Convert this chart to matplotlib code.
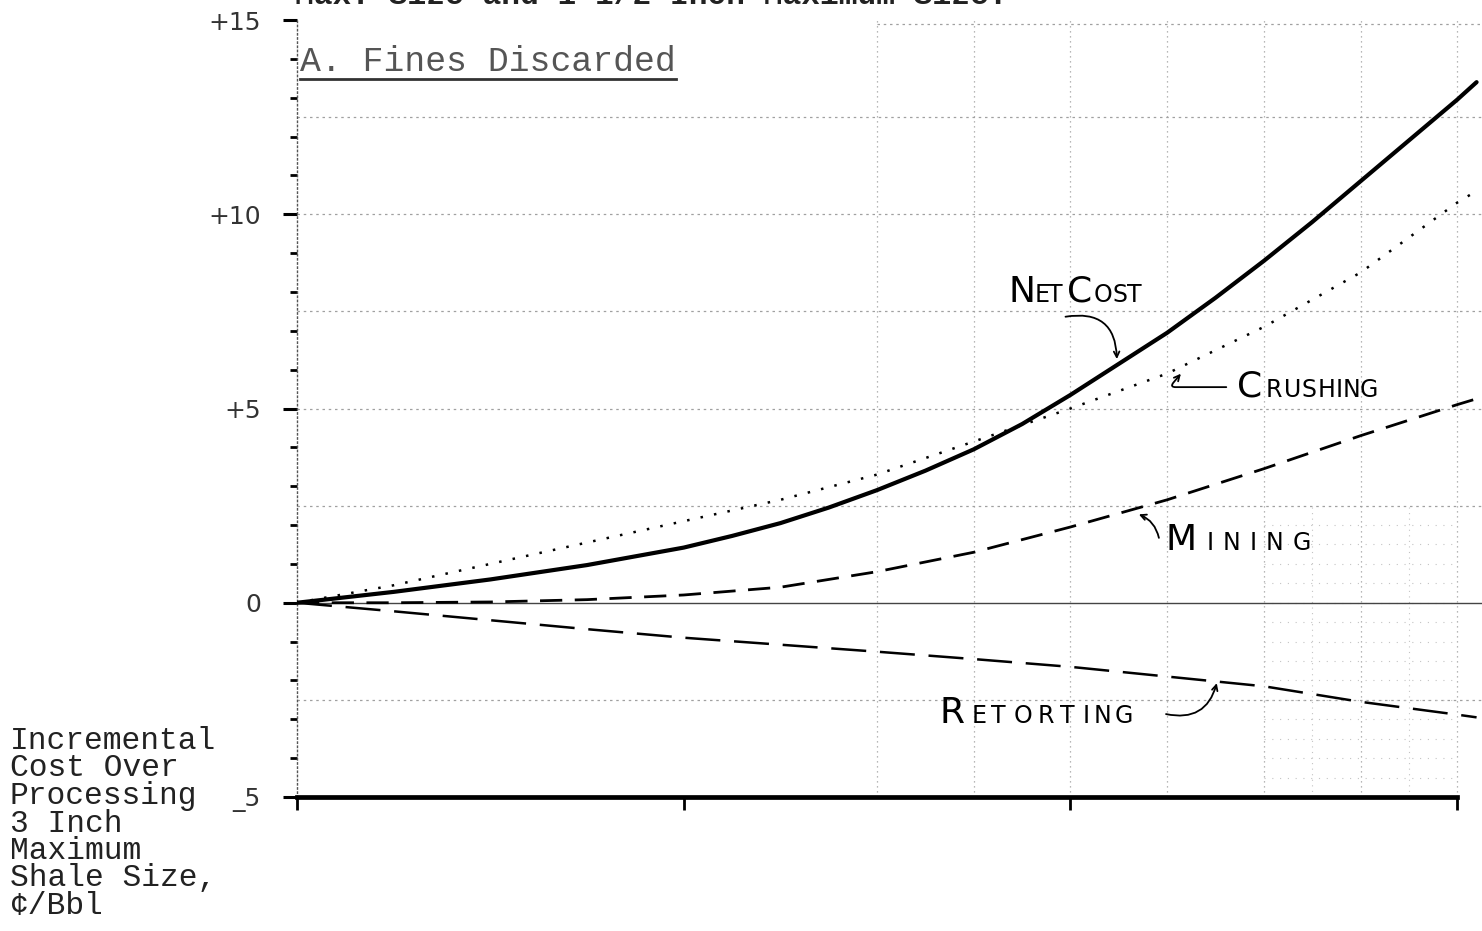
import numpy as np
import matplotlib
matplotlib.use('Agg')
import matplotlib.pyplot as plt
from matplotlib.textpath import TextPath
from matplotlib.font_manager import FontProperties

# shale size axis (unlabelled in the original), 0..3 plus the small overrun
x_vals = [0, 0.25, 0.5, 0.75, 1.0, 1.25, 1.5, 1.75, 2.0, 2.25, 2.5, 2.75, 3.0, 3.05]
crushing = [0, 0.45, 1.0, 1.55, 2.1, 2.65, 3.3, 4.15, 5.0, 5.9, 7.1, 8.5, 10.3, 10.6]
mining = [0, 0.0, 0.02, 0.08, 0.2, 0.4, 0.8, 1.3, 1.95, 2.65, 3.45, 4.3, 5.1, 5.25]
retorting = [0, -0.22, -0.45, -0.68, -0.9, -1.08, -1.26, -1.45, -1.65, -1.9, -2.15, -2.55, -2.88, -2.95]

x_net = [0, 0.25, 0.5, 0.75, 1.0, 1.125, 1.25, 1.375, 1.5, 1.625, 1.75, 1.875,
         2.0, 2.125, 2.25, 2.375, 2.5, 2.625, 2.75, 2.875, 3.0, 3.05]
net_cost = [0, 0.28, 0.6, 0.97, 1.42, 1.72, 2.05, 2.45, 2.9, 3.4, 3.95, 4.6,
            5.35, 6.15, 6.95, 7.85, 8.8, 9.8, 10.85, 11.9, 12.95, 13.4]

y_major = [-5, 0, 5, 10, 15]
y_major_labels = ['_5', '0', '+5', '+10', '+15']
y_minor = [-4, -3, -2, -1, 1, 2, 3, 4, 6, 7, 8, 9, 11, 12, 13, 14]
x_ticks = [0, 1, 2, 3]

title = 'A. Fines Discarded'
top_text = 'Max. Size and 1-1/2 Inch Maximum Size.'
ylabel_lines = ['Incremental', 'Cost Over', 'Processing', '3 Inch',
                'Maximum', 'Shale Size,', '\u00a2/Bbl']

MONO = 'Liberation Mono'
HAND = 'DejaVu Sans'

W, H = 1482, 931
fig = plt.figure(figsize=(W / 100, H / 100), dpi=100)
ax = fig.add_axes([297 / W, 1 - 797 / H, 1 - 297 / W, (797 - 20) / H])
ax.set_xlim(0, 3.064)
ax.set_ylim(-5, 15)

# faint scanned grid
grid_c = '#a0a0a0'
for gx in [1.5, 1.75, 2.0, 2.25, 2.5, 2.75, 3.0]:
    ax.axvline(gx, color=grid_c, lw=0.9, ls=(0, (1, 3)), zorder=1)
for gy in [12.5, 10, 7.5, 5, 2.5, -2.5]:
    ax.axhline(gy, color=grid_c, lw=0.9, ls=(0, (2, 3)), zorder=1)
ax.hlines(14.9, 1.5, 3.064, color=grid_c, lw=0.9, ls=(0, (2, 3)), zorder=1)
for gy in np.arange(-4.5, 2.5, 0.5):
    ax.hlines(gy, 2.5, 3.0, color='#c4c4c4', lw=0.8, ls=(0, (1, 6)), zorder=1)
for gx in [2.625, 2.875]:
    ax.vlines(gx, -5, 2.5, color='#c4c4c4', lw=0.8, ls=(0, (1, 4)), zorder=1)
ax.axhline(0, color='#444444', lw=1.0, zorder=1)

# the four curves
ax.plot(x_net, net_cost, color='black', lw=3.0, solid_capstyle='round',
        solid_joinstyle='round', zorder=4)
ax.plot(x_vals, crushing, color='black', lw=1.8, ls=(0, (1, 4.5)), zorder=3)
ax.plot(x_vals, mining, color='black', lw=2.0, ls=(0, (8, 4.5)), zorder=3)
ax.plot(x_vals, retorting, color='black', lw=1.8, ls=(0, (14, 5.5)), zorder=3)

# axes styling
for s in ['top', 'right']:
    ax.spines[s].set_visible(False)
ax.spines['left'].set_linestyle((0, (1, 2)))
ax.spines['left'].set_color('#555555')
ax.spines['left'].set_linewidth(1.0)
ax.spines['left'].set_bounds(-5, 15)
ax.spines['bottom'].set_linewidth(3.4)
ax.spines['bottom'].set_bounds(0, 3)

ax.set_yticks(y_major)
ax.set_yticklabels(y_major_labels, fontfamily=HAND, fontsize=18, color='#333333')
ax.set_yticks(y_minor, minor=True)
ax.tick_params(axis='y', which='major', length=10, width=2.2, pad=16, direction='out')
ax.tick_params(axis='y', which='minor', length=5, width=2.0, direction='out')
ax.set_xticks(x_ticks)
ax.set_xticklabels([])
ax.tick_params(axis='x', which='major', length=9, width=2.0, direction='out')


def small_caps(x, y, word, big=26, small=17, track=2.5):
    # first letter of each word big, the rest small capitals
    fp = FontProperties(family=HAND)
    off = 0.0
    for w in word.split(' '):
        for i, ch in enumerate(w.upper()):
            size = big if i == 0 else small
            ax.annotate(ch, (x, y), xytext=(off, 0), textcoords='offset points',
                        fontsize=size, fontfamily=HAND, va='baseline',
                        ha='left', zorder=5)
            adv = TextPath((0, 0), ch, size=size, prop=fp).get_extents().width
            off += adv + track + (2.5 if i == 0 else 0)
        off += 2.0


small_caps(1.84, 7.75, 'Net Cost', track=1.6)
small_caps(2.43, 5.3, 'Crushing', track=3.2)
small_caps(2.245, 1.35, 'Mining', track=10.0)
small_caps(1.66, -3.1, 'Retorting', track=6.0)

arr = dict(arrowstyle='->', color='black', lw=1.3)
ax.annotate('', xy=(2.12, 6.2), xytext=(1.98, 7.35),
            arrowprops=dict(arr, connectionstyle='arc3,rad=-0.6'))
ax.annotate('', xy=(2.29, 5.95), xytext=(2.41, 5.55),
            arrowprops=dict(arr, connectionstyle='angle,angleA=0,angleB=50,rad=6'))
ax.annotate('', xy=(2.17, 2.3), xytext=(2.23, 1.6),
            arrowprops=dict(arr, connectionstyle='arc3,rad=0.3'))
ax.annotate('', xy=(2.38, -2.0), xytext=(2.24, -2.85),
            arrowprops=dict(arr, connectionstyle='arc3,rad=0.5'))

# typed text
fig.text(295 / W, 1 - 4 / H, top_text, fontfamily=MONO, fontsize=22.5,
         fontweight='bold', va='baseline', ha='left', color='#222222')
t = ax.text(0.008, 13.7, title, fontfamily=MONO, fontsize=25, va='baseline',
            ha='left', color='#555555')
fig.canvas.draw()
bb = t.get_window_extent().transformed(ax.transData.inverted())
ax.plot([bb.x0, bb.x1], [bb.y0 - 0.05, bb.y0 - 0.05], color='#333333', lw=2.0)

for i, line in enumerate(ylabel_lines):
    fig.text(10 / W, 1 - (741 + 27.5 * i) / H, line, fontfamily=MONO,
             fontsize=22.5, va='center', ha='left', color='#222222')

fig.savefig('out.png', dpi=100)
